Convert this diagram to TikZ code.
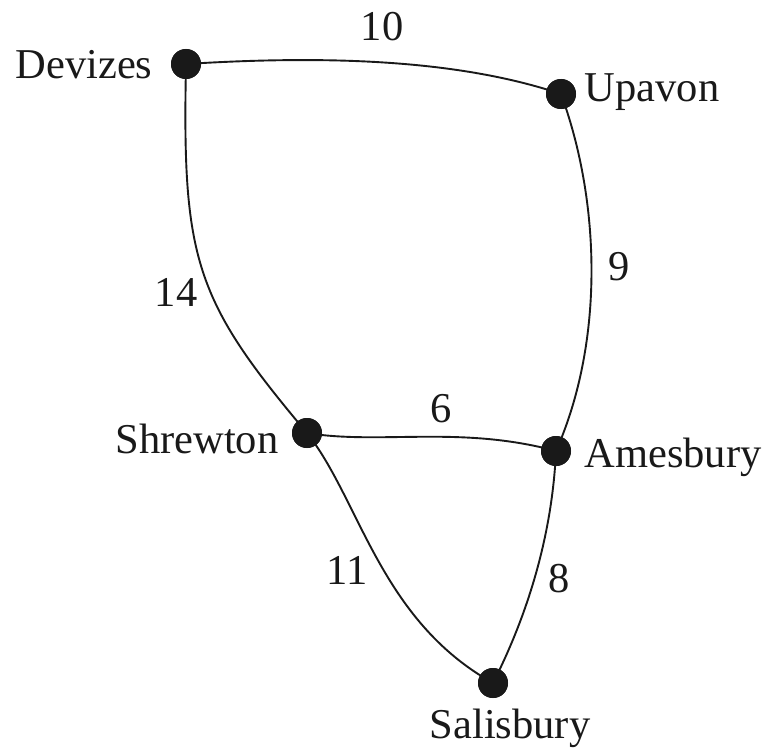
\documentclass[tikz,border=0pt]{standalone}
\usepackage{fontspec}
\setmainfont{Liberation Serif}
\begin{document}
\begin{tikzpicture}[x=1pt,y=-1pt,
  dot/.style={circle,fill=black!90,inner sep=0pt,minimum size=30pt},
  lbl/.style={anchor=base,inner sep=0pt,font=\fontsize{42.5}{50}\selectfont,text=black!90},
  edge/.style={line width=1.9pt,black!90}]
\useasboundingbox (0,0) rectangle (777,752);
\node[dot] (dev) at (186,64) {};
\node[dot] (upa) at (561,94) {};
\node[dot] (shr) at (307,433) {};
\node[dot] (ame) at (556,451) {};
\node[dot] (sal) at (493,683) {};
\draw[edge] (dev.center) .. controls (330,55) and (460,60) .. (upa.center);
\draw[edge] (dev.center) .. controls (182,260) and (195,300) .. (shr.center);
\draw[edge] (upa.center) .. controls (600,200) and (605,340) .. (ame.center);
\draw[edge] (shr.center) .. controls (380,445) and (460,425) .. (ame.center);
\draw[edge] (shr.center) .. controls (360,500) and (380,620) .. (sal.center);
\draw[edge] (ame.center) .. controls (552,540) and (525,620) .. (sal.center);
\foreach \n in {dev,upa,shr,ame,sal} \fill[black!90] (\n) circle[radius=15pt];
\node[lbl] (ldev) at (84,79) {Devizes};
\node[lbl] (lupa) at (652,102) {Upavon};
\node[lbl] (lshr) at (197,453) {Shrewton};
\node[lbl] (lame) at (673,467) {Amesbury};
\node[lbl] (lsal) at (510,738) {Salisbury};
\node[lbl] (e10) at (382,41) {10};
\node[lbl] (e14) at (176,306) {14};
\node[lbl] (e9) at (619,280) {9};
\node[lbl] (e6) at (441,422) {6};
\node[lbl] (e11) at (347,584) {11};
\node[lbl] (e8) at (559,592) {8};
\end{tikzpicture}
\end{document}
